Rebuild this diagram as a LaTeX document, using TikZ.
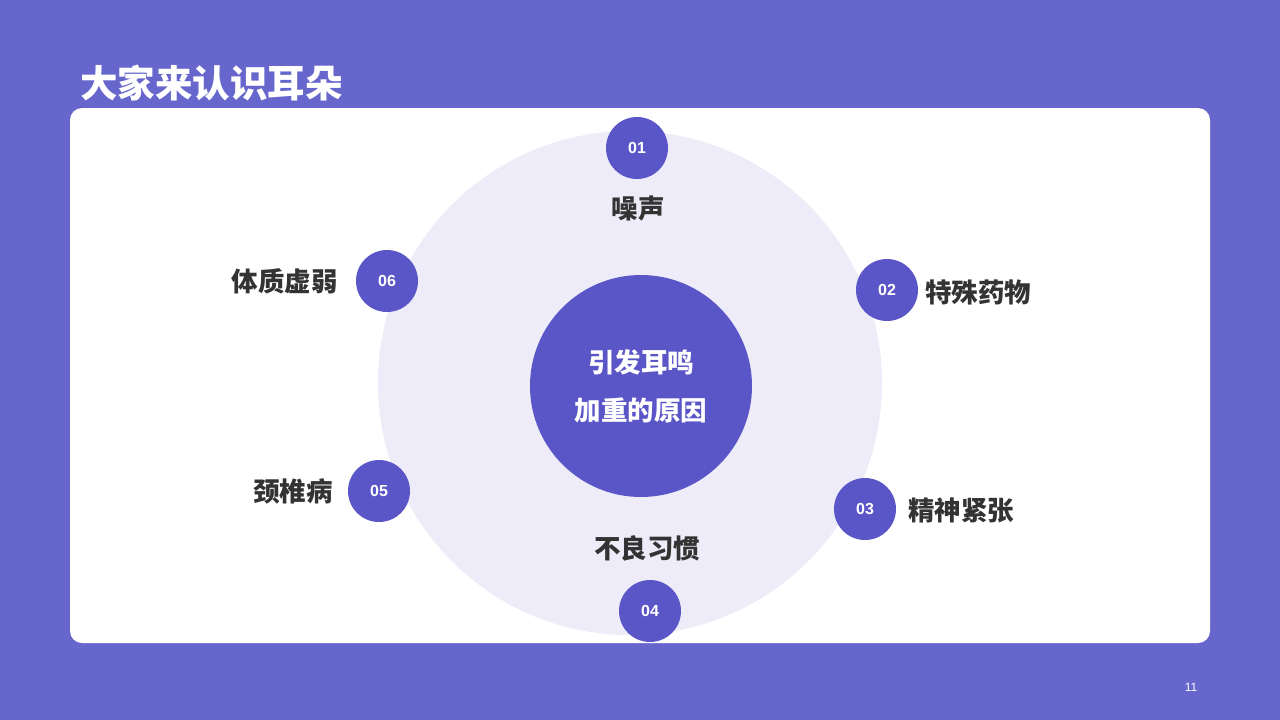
\documentclass[tikz,border=0pt]{standalone}
\usepackage{fontspec}
\setmainfont{Noto Sans CJK SC}
\newfontfamily\numfont{Liberation Sans}
\usetikzlibrary{positioning}
\definecolor{bgblue}{RGB}{102,102,204}
\definecolor{ringgray}{RGB}{237,236,248}
\definecolor{dotblue}{RGB}{91,86,200}
\definecolor{txtdark}{RGB}{51,51,51}
\begin{document}
\begin{tikzpicture}[x=1pt,y=-1pt,
    numdot/.style={circle,fill=dotblue,minimum size=62pt,inner sep=0pt,text=white,font=\numfont\fontsize{16}{18}\selectfont\bfseries},
    cause/.style={text=txtdark,font=\fontsize{26.5}{30}\selectfont\bfseries,inner sep=0pt}]
  \useasboundingbox (0,0) rectangle (1280,720);
  \fill[bgblue] (0,0) rectangle (1280,720);
  \fill[white,rounded corners=12pt] (70,108) rectangle (1210,643);
  \node[text=white,font=\fontsize{37.5}{40}\selectfont\bfseries,anchor=west,inner sep=0pt] (title) at (80,83) {大家来认识耳朵};
  \node[text=white,font=\numfont\fontsize{12}{14}\selectfont,inner sep=0pt] (page) at (1191,687) {11};
  % rings
  \fill[ringgray] (630,383) circle (252);
  \node[circle,fill=dotblue,minimum size=222pt,inner sep=0pt,text=white,align=center,
        font=\fontsize{26.5}{48}\selectfont\bfseries] (core) at (641,386) {引发耳鸣\\加重的原因};
  % numbered causes
  \node[numdot] (n1) at (637,148) {01};
  \node[numdot] (n2) at (887,290) {02};
  \node[numdot] (n3) at (865,509) {03};
  \node[numdot] (n4) at (650,611) {04};
  \node[numdot] (n5) at (379,491) {05};
  \node[numdot] (n6) at (387,281) {06};
  \node[cause] (c1) at (638,208) {噪声};
  \node[cause,anchor=west] (c2) at (925,292) {特殊药物};
  \node[cause,anchor=west] (c3) at (908,510) {精神紧张};
  \node[cause] (c4) at (647,548) {不良习惯};
  \node[cause,anchor=east] (c5) at (333,491) {颈椎病};
  \node[cause,anchor=east] (c6) at (338,281) {体质虚弱};
\end{tikzpicture}
\end{document}
